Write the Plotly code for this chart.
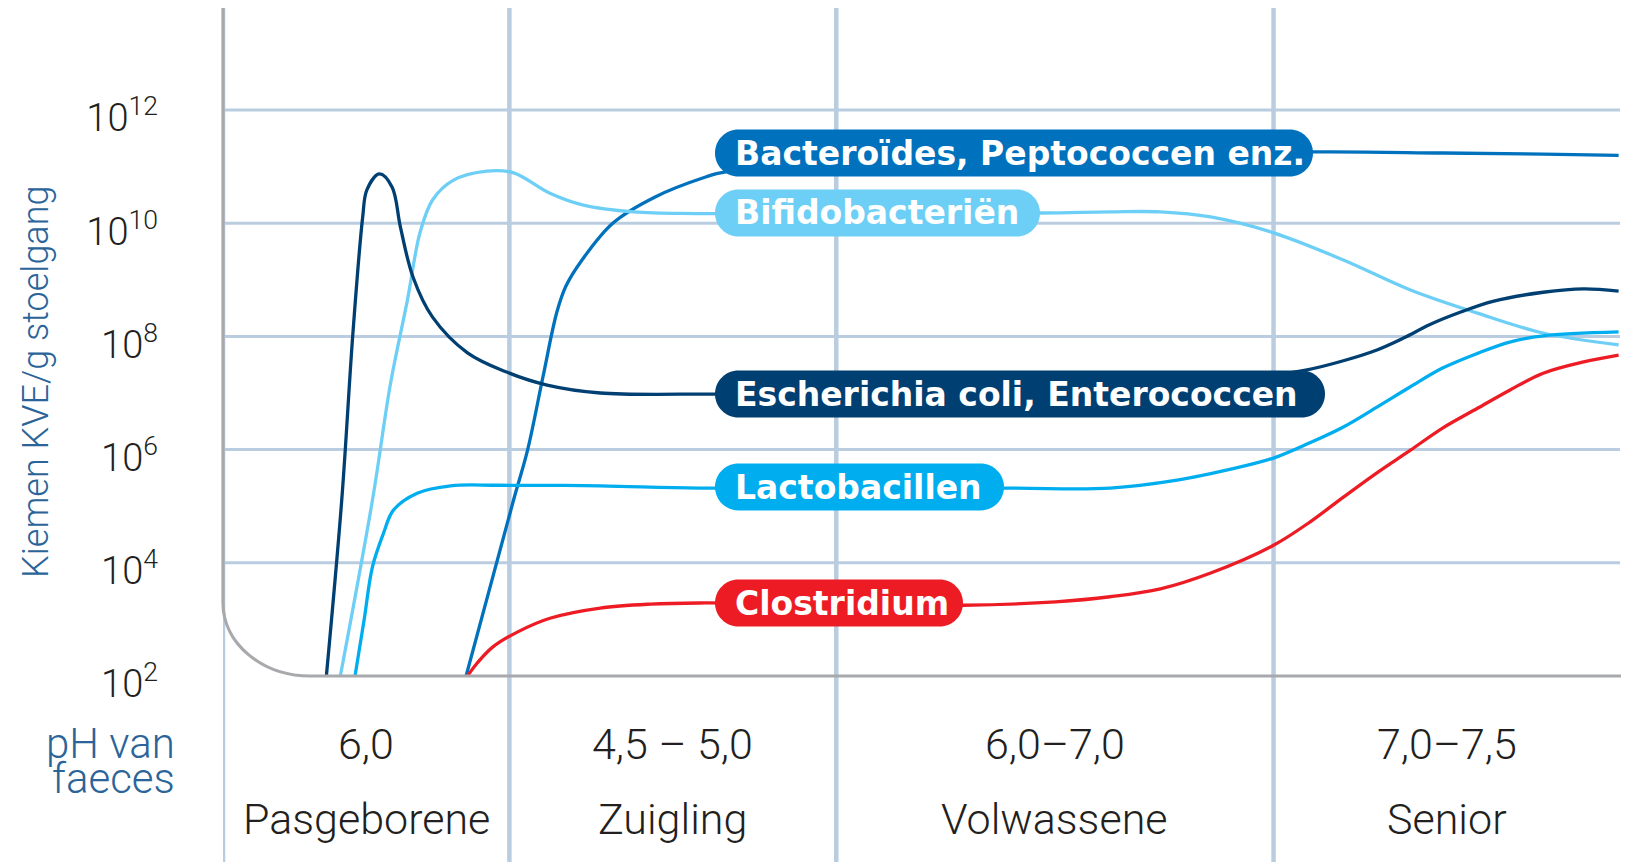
import numpy as np
import plotly.graph_objects as go

# tijd-as in willekeurige eenheden (0-100), waarden als log10(KVE/g)
fase_grenzen = [20.5, 43.9, 75.2]
fase_namen = ["Pasgeborene", "Zuigling", "Volwassene", "Senior"]
ph_waarden = ["6,0", "4,5 – 5,0", "6,0–7,0", "7,0–7,5"]
y_exponenten = [2, 4, 6, 8, 10, 12]

ecoli_x = [7.4, 8.5, 9.3, 10.0, 10.3, 11.2, 12.1, 12.7, 13.6, 15.0, 17.5, 20.3, 23.2,
           27.0, 34.1, 35.2, 62.8, 73.5, 77.6, 80.2, 82.6, 84.5, 86.4, 88.6, 90.9,
           94.5, 97.4, 99.9]
ecoli_log = [2.0, 5.11, 8.06, 10.11, 10.59, 10.87, 10.64, 9.93, 9.05, 8.34, 7.71, 7.37,
             7.14, 7.00, 6.98, 6.98, 7.12, 7.27, 7.41, 7.57, 7.76, 7.97, 8.21, 8.43,
             8.62, 8.78, 8.84, 8.80]

bactero_x = [17.4, 20.8, 21.8, 22.9, 23.9, 24.55, 25.7, 27.9, 30.9, 34.6, 35.8, 55.6,
             78.2, 87.3, 94.5, 99.9]
bactero_log = [2.0, 5.11, 5.99, 7.28, 8.43, 8.89, 9.35, 10.0, 10.46, 10.82, 10.90,
               11.15, 11.26, 11.24, 11.22, 11.20]

bifido_x = [8.4, 10.7, 12.0, 13.2, 14.1, 15.0, 16.5, 18.9, 20.8, 23.4, 25.8, 29.4, 34.1,
            58.5, 63.5, 67.1, 70.7, 75.2, 80.2, 85.0, 89.8, 94.5, 99.9]
bifido_log = [2.0, 5.11, 7.18, 8.64, 9.83, 10.41, 10.76, 10.92, 10.89, 10.53, 10.32,
              10.20, 10.17, 10.18, 10.20, 10.20, 10.11, 9.83, 9.35, 8.82, 8.41, 8.06, 7.85]

lacto_x = [9.45, 10.1, 10.7, 11.5, 12.2, 13.9, 16.3, 19.8, 27.0, 34.1, 55.9, 63.5, 68.3,
           71.9, 75.2, 77.8, 80.2, 82.6, 85.0, 87.3, 89.8, 92.1, 94.5, 99.9]
lacto_log = [2.0, 2.99, 3.93, 4.53, 4.93, 5.23, 5.36, 5.37, 5.36, 5.32, 5.32, 5.32, 5.46,
             5.64, 5.85, 6.12, 6.40, 6.75, 7.11, 7.44, 7.70, 7.90, 8.01, 8.08]

clost_x = [17.5, 18.2, 19.3, 21.1, 23.4, 27.0, 30.6, 34.1, 53.0, 59.6, 63.5, 67.1, 70.7,
           75.2, 77.8, 80.2, 82.6, 85.0, 87.3, 89.8, 92.1, 94.5, 97.4, 99.9]
clost_log = [2.0, 2.23, 2.51, 2.78, 3.02, 3.20, 3.27, 3.29, 3.25, 3.31, 3.40, 3.54, 3.82,
             4.31, 4.72, 5.16, 5.59, 5.99, 6.38, 6.73, 7.05, 7.35, 7.55, 7.67]

series = [
    ("Bacteroïdes, Peptococcen enz.", bactero_x, bactero_log, "#0071BC"),
    ("Bifidobacteriën", bifido_x, bifido_log, "#6DCFF6"),
    ("Escherichia coli, Enterococcen", ecoli_x, ecoli_log, "#003F72"),
    ("Lactobacillen", lacto_x, lacto_log, "#00AEEF"),
    ("Clostridium", clost_x, clost_log, "#ED1C24"),
]

# label-balkjes: rechterrand en midden (pixels in het beeld)
label_rechts = [1313, 1040, 1325, 1004, 963]
label_midden = [153, 213, 394, 487, 603]

# de pagina heeft 8px body-marge; figuur daarom 8px kleiner
OFF = 8
W, H = 1629 - OFF, 862 - OFF
X0, X1, Y0, Y1 = 223, 1620, 8, 676          # plotgebied in beeldpixels
PW, PH = X1 - X0, Y1 - Y0
GRID = "#BACDE0"
TEXT = "#231F20"
BLAUW = "#2B6499"


def px(x):
    return (x - X0) / PW


def py(y):
    return (Y1 - y) / PH


def pill_path(x0, x1, yc, h=47):
    r = h / 2
    k = 0.5523 * r
    pts = [
        ("M", [(x0 + r, yc - r)]),
        ("L", [(x1 - r, yc - r)]),
        ("C", [(x1 - r + k, yc - r), (x1, yc - k), (x1, yc)]),
        ("C", [(x1, yc + k), (x1 - r + k, yc + r), (x1 - r, yc + r)]),
        ("L", [(x0 + r, yc + r)]),
        ("C", [(x0 + r - k, yc + r), (x0, yc + k), (x0, yc)]),
        ("C", [(x0, yc - k), (x0 + r - k, yc - r), (x0 + r, yc - r)]),
    ]
    out = ""
    for cmd, p in pts:
        out += cmd + " " + " ".join(f"{px(a):.5f},{py(b):.5f}" for a, b in p) + " "
    return out + "Z"


fig = go.Figure()

for name, xs, logs, color in series:
    fig.add_trace(go.Scatter(
        x=xs, y=10 ** np.array(logs), mode="lines", name=name,
        line=dict(color=color, width=3.3, shape="spline", smoothing=1.0),
        hoverinfo="skip", showlegend=False,
    ))

shapes = []
# verticale fase-lijnen (lopen door tot onder de as)
for xv in [0] + fase_grenzen:
    shapes.append(dict(type="line", xref="x", yref="paper", x0=xv, x1=xv,
                       y0=py(862), y1=1, line=dict(color=GRID, width=4.5), layer="below"))
# horizontale rasterlijnen
for e in y_exponenten[1:]:
    shapes.append(dict(type="line", xref="paper", yref="y", x0=0, x1=1,
                       y0=10 ** e, y1=10 ** e, line=dict(color=GRID, width=3), layer="below"))
# grijze as met afgeronde hoek
cx, cy = px(X0 + 87), py(Y1 - 73)
k = 0.5523
shapes.append(dict(
    type="path", xref="paper", yref="paper",
    path=f"M 0,1 L 0,{cy:.5f} C 0,{cy * (1 - k):.5f} {cx * (1 - k):.5f},0 {cx:.5f},0 L 1.002,0",
    line=dict(color="#A7A9AC", width=3.2), layer="above"))

annotations = []
for (name, xs, logs, color), xr, ym in zip(series, label_rechts, label_midden):
    shapes.append(dict(type="path", xref="paper", yref="paper", path=pill_path(715, xr, ym),
                       fillcolor=color, line=dict(width=0), layer="above"))
    annotations.append(dict(
        text=name, xref="paper", yref="paper", x=px(733), y=py(ym), xanchor="left",
        yanchor="middle", showarrow=False,
        font=dict(family="DejaVu Sans", size=33, color="white", weight="bold")))

randen = [0] + fase_grenzen + [100]
for i in range(4):
    xm = (randen[i] + randen[i + 1]) / 2
    annotations.append(dict(text=ph_waarden[i], x=xm, xref="x", yref="paper", y=py(744),
                            showarrow=False, yanchor="middle",
                            font=dict(family="Roboto", size=43, color=TEXT, weight=300)))
    annotations.append(dict(text=fase_namen[i], x=xm, xref="x", yref="paper", y=py(819),
                            showarrow=False, yanchor="middle",
                            font=dict(family="Roboto", size=43, color=TEXT, weight=300)))

annotations.append(dict(text="pH van", xref="paper", yref="paper", x=px(177), y=py(743),
                        xanchor="right", yanchor="middle", showarrow=False,
                        font=dict(family="Roboto", size=42, color=BLAUW, weight=300)))
annotations.append(dict(text="faeces", xref="paper", yref="paper", x=px(177), y=py(779),
                        xanchor="right", yanchor="middle", showarrow=False,
                        font=dict(family="Roboto", size=42, color=BLAUW, weight=300)))
annotations.append(dict(text="Kiemen KVE/g stoelgang", xref="paper", yref="paper",
                        x=px(36), y=py(382), textangle=-90, showarrow=False,
                        xanchor="center", yanchor="middle",
                        font=dict(family="Roboto", size=36, color=BLAUW, weight=300)))

fig.update_layout(
    width=W, height=H,
    margin=dict(l=X0 - OFF, r=W - (X1 - OFF), t=Y0 - OFF, b=H - (Y1 - OFF)),
    plot_bgcolor="white", paper_bgcolor="white",
    shapes=shapes, annotations=annotations,
    xaxis=dict(range=[0, 100], showgrid=False, zeroline=False, showline=False,
               showticklabels=False, ticks=""),
    yaxis=dict(type="log", range=[2, 2 + PH / 56.6], showgrid=False, zeroline=False,
               showline=False,
               tickvals=[10 ** e for e in y_exponenten],
               ticktext=[f"10<sup>{e}</sup>" for e in y_exponenten],
               ticks="", ticklabelstandoff=64, ticklabelshift=8,
               tickfont=dict(family="Roboto", size=38, color=TEXT, weight=300)),
)

fig.write_html("out.html")
